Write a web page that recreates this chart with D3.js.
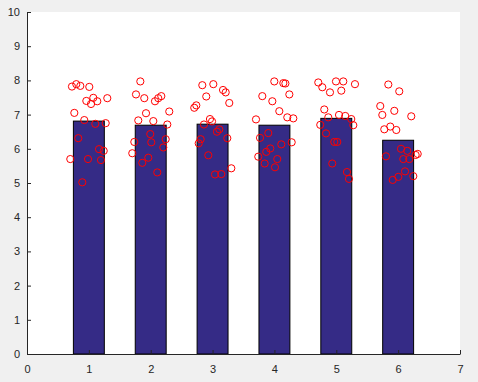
<!DOCTYPE html>
<html>
<head>
<meta charset="utf-8">
<script src="https://cdn.jsdelivr.net/npm/d3@7"></script>
<style>
  body { margin: 0; background: #f0f0f0; }
  svg { display: block; }
  .tick text { font-family: "Liberation Sans", Arial, sans-serif; font-size: 11px; fill: #262626; }
</style>
</head>
<body>
<div id="chart"></div>
<script>
// bar categories and heights (group means)
var groups = [1, 2, 3, 4, 5, 6];
var barHeights = [6.81, 6.69, 6.72, 6.69, 6.89, 6.25];

// jittered individual points, one list per group: x positions and y values
var pointX = [
  [0.727, 0.797, 0.862, 1.007, 0.959, 1.072, 1.035, 1.136, 1.298, 0.765, 0.926, 1.104, 1.272, 0.829, 1.164, 1.240, 0.700, 0.986, 1.196, 0.894],
  [1.832, 1.762, 1.896, 2.069, 2.122, 2.171, 2.300, 1.924, 1.799, 2.042, 2.268, 1.993, 1.735, 2.009, 2.242, 2.203, 1.702, 1.961, 1.864, 2.106],
  [2.834, 3.012, 3.169, 3.212, 2.898, 3.270, 2.704, 2.737, 2.958, 2.861, 2.991, 3.109, 3.071, 3.238, 2.808, 2.776, 2.931, 3.303, 3.039, 3.141],
  [3.998, 4.144, 4.177, 4.241, 3.804, 3.966, 4.079, 4.208, 4.305, 3.702, 3.901, 3.767, 4.279, 4.111, 3.933, 3.868, 3.739, 4.046, 3.842, 4.009],
  [4.709, 4.774, 4.898, 4.995, 5.113, 5.081, 5.302, 4.806, 4.871, 5.044, 5.145, 5.242, 5.275, 4.741, 4.834, 4.968, 5.016, 4.935, 5.173, 5.205],
  [5.841, 6.018, 5.711, 5.744, 5.938, 6.212, 5.776, 5.873, 5.970, 6.046, 6.148, 5.803, 6.083, 6.180, 6.283, 6.316, 6.111, 6.003, 5.912, 6.245]
];
var pointY = [
  [7.82, 7.89, 7.84, 7.81, 7.40, 7.49, 7.31, 7.39, 7.48, 7.05, 6.84, 6.73, 6.75, 6.31, 5.99, 5.94, 5.70, 5.70, 5.67, 5.02],
  [7.97, 7.59, 7.48, 7.39, 7.48, 7.54, 7.09, 7.04, 6.83, 6.81, 6.71, 6.43, 6.20, 6.19, 6.28, 6.04, 5.87, 5.74, 5.59, 5.31],
  [7.86, 7.89, 7.72, 7.65, 7.53, 7.34, 7.20, 7.27, 6.87, 6.71, 6.80, 6.57, 6.50, 6.31, 6.28, 6.16, 5.81, 5.43, 5.25, 5.26],
  [7.97, 7.92, 7.91, 7.59, 7.54, 7.39, 7.10, 6.92, 6.89, 6.86, 6.46, 6.32, 6.19, 6.13, 6.01, 5.91, 5.77, 5.70, 5.57, 5.46],
  [7.94, 7.80, 7.65, 7.97, 7.97, 7.70, 7.89, 7.15, 6.92, 6.99, 6.96, 6.87, 6.69, 6.70, 6.45, 6.20, 6.20, 5.57, 5.32, 5.12],
  [7.88, 7.68, 7.25, 6.99, 7.11, 6.95, 6.57, 6.65, 6.55, 6.00, 5.94, 5.78, 5.70, 5.70, 5.82, 5.85, 5.34, 5.18, 5.09, 5.20]
];

var xTicks = [0, 1, 2, 3, 4, 5, 6, 7];
var yTicks = [0, 1, 2, 3, 4, 5, 6, 7, 8, 9, 10];

var svgWidth = 478, svgHeight = 382;
var margin = { top: 12, right: 18, bottom: 28, left: 27 };
var chartWidth = svgWidth - margin.left - margin.right;
var chartHeight = svgHeight - margin.top - margin.bottom;

var svg = d3.select("#chart")
  .append("svg")
  .attr("width", svgWidth)
  .attr("height", svgHeight);

svg.append("rect")
  .attr("width", svgWidth)
  .attr("height", svgHeight)
  .attr("fill", "#f0f0f0");

var chartGroup = svg.append("g")
  .attr("transform", `translate(${margin.left}, ${margin.top})`);

chartGroup.append("rect")
  .attr("width", chartWidth)
  .attr("height", chartHeight)
  .attr("fill", "white");

var xScale = d3.scaleLinear().domain([0, 7]).range([0, chartWidth]);
var yScale = d3.scaleLinear().domain([0, 10]).range([chartHeight, 0]);

var barWidth = 0.5;

chartGroup.selectAll("rect.bar")
  .data(groups)
  .enter()
  .append("rect")
  .attr("class", "bar")
  .attr("x", (d, i) => xScale(d - barWidth / 2))
  .attr("y", (d, i) => yScale(barHeights[i]))
  .attr("width", xScale(barWidth) - xScale(0))
  .attr("height", (d, i) => yScale(0) - yScale(barHeights[i]))
  .attr("fill", "#352b86")
  .attr("stroke", "black")
  .attr("stroke-width", 1);

// flatten points
var points = [];
pointX.forEach((xs, g) => {
  xs.forEach((x, j) => points.push({ x: x, y: pointY[g][j] }));
});

chartGroup.selectAll("circle")
  .data(points)
  .enter()
  .append("circle")
  .attr("cx", d => xScale(d.x))
  .attr("cy", d => yScale(d.y))
  .attr("r", 3.6)
  .attr("fill", "none")
  .attr("stroke", "#ff0000")
  .attr("stroke-width", 1);

var xAxis = d3.axisBottom(xScale)
  .tickValues(xTicks)
  .tickFormat(d3.format("d"))
  .tickSizeInner(-4)
  .tickSizeOuter(0)
  .tickPadding(11);

var yAxis = d3.axisLeft(yScale)
  .tickValues(yTicks)
  .tickFormat(d3.format("d"))
  .tickSizeInner(-4)
  .tickSizeOuter(0)
  .tickPadding(7);

var gx = chartGroup.append("g")
  .attr("transform", `translate(0, ${chartHeight})`)
  .call(xAxis);

var gy = chartGroup.append("g")
  .call(yAxis);

[gx, gy].forEach(g => {
  g.select(".domain").attr("stroke", "#262626");
  g.selectAll(".tick line").attr("stroke", "#262626");
  g.attr("font-size", null).attr("font-family", null);
});
</script>
</body>
</html>
